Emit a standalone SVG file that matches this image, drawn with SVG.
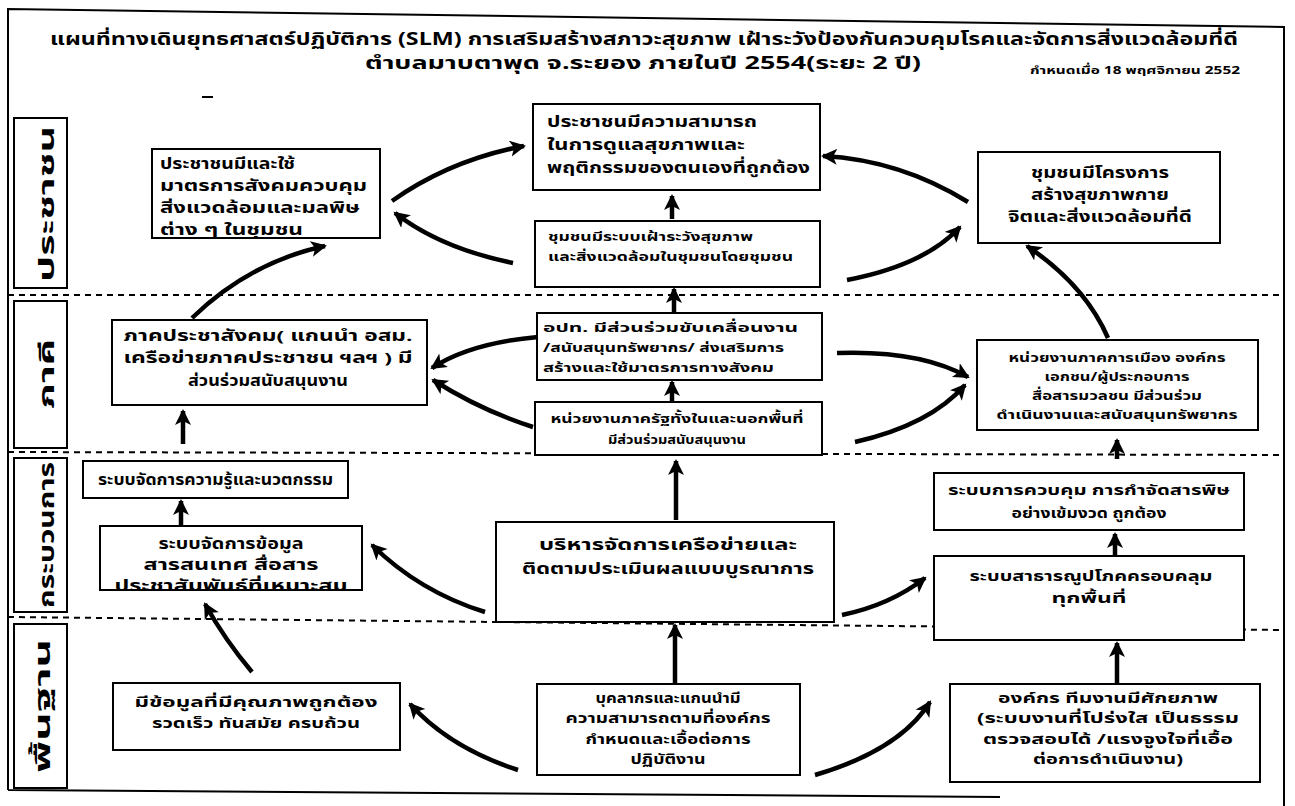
<svg xmlns="http://www.w3.org/2000/svg" width="1295" height="806" viewBox="0 0 1295 806">
<style>
text{font-family:"Noto Sans Thai","Tahoma","Noto Sans","DejaVu Sans",sans-serif;font-weight:bold;fill:#000}
.box{fill:#fff;stroke:#000;stroke-width:2}
.lab{fill:#fff;stroke:#000;stroke-width:2}
.div{stroke:#000;stroke-width:2;stroke-dasharray:6 5;fill:none}
.frame{stroke:#000;stroke-width:2;fill:none}
.con{stroke:#000;stroke-width:4.5;fill:none;marker-end:url(#ah)}
.t16{font-size:16px}
.t15{font-size:15px}
.t14{font-size:14px}
.t13{font-size:13px}
.lt{font-size:21px}
.m{text-anchor:middle}
</style>
<defs>
<marker id="ah" markerUnits="userSpaceOnUse" markerWidth="20" markerHeight="20" refX="14" refY="8" orient="auto">
<path d="M0,0 L16,8 L0,16 L4,8 z" fill="#000"/>
</marker>
</defs>
<rect x="0" y="0" width="1295" height="806" fill="#fff"/>
<path class="frame" d="M8,790 L8,9 L1284,27 L1284,806 M8,790 L1000,797"/>
<g id="title">
<text x="50" y="45" font-size="17" textLength="1188" lengthAdjust="spacingAndGlyphs">แผนที่ทางเดินยุทธศาสตร์ปฏิบัติการ (SLM) การเสริมสร้างสภาวะสุขภาพ เฝ้าระวังป้องกันควบคุมโรคและจัดการสิ่งแวดล้อมที่ดี</text>
<text x="365" y="69" font-size="17" textLength="556" lengthAdjust="spacingAndGlyphs">ตำบลมาบตาพุด จ.ระยอง ภายในปี 2554(ระยะ 2 ปี)</text>
<text x="1030" y="74" font-size="11" textLength="210" lengthAdjust="spacingAndGlyphs">กำหนดเมื่อ 18 พฤศจิกายน 2552</text>
</g>
<line x1="202" y1="97" x2="213" y2="97" stroke="#000" stroke-width="2"/>
<g id="dividers">
<line class="div" x1="8" y1="295" x2="1284" y2="295"/>
<line class="div" x1="8" y1="452" x2="1284" y2="455"/>
<line class="div" x1="8" y1="617" x2="1284" y2="630"/>
</g>
<g id="lane-people">
<rect class="lab" x="14" y="118" width="53" height="170"/>
<text class="lt m" transform="translate(54,204) rotate(-90)" textLength="156" lengthAdjust="spacingAndGlyphs">ประชาชน</text>
</g>
<g id="lane-partners">
<rect class="lab" x="14" y="301" width="53" height="147"/>
<text class="lt m" transform="translate(54,374) rotate(-90)" textLength="70" lengthAdjust="spacingAndGlyphs">ภาคี</text>
</g>
<g id="lane-process">
<rect class="lab" x="14" y="458" width="53" height="154"/>
<text class="lt m" transform="translate(54,535) rotate(-90)" textLength="146" lengthAdjust="spacingAndGlyphs">กระบวนการ</text>
</g>
<g id="lane-base">
<rect class="lab" x="14" y="624" width="53" height="164"/>
<text class="lt m" transform="translate(50,706) rotate(-90)" textLength="134" lengthAdjust="spacingAndGlyphs">พื้นฐาน</text>
</g>
<g id="n1">
<rect class="box" x="152" y="149" width="228" height="89"/>
<text class="t15" x="160" y="169" textLength="135" lengthAdjust="spacingAndGlyphs">ประชาชนมีและใช้</text>
<text class="t15" x="160" y="191" textLength="207" lengthAdjust="spacingAndGlyphs">มาตรการสังคมควบคุม</text>
<text class="t15" x="160" y="213" textLength="200" lengthAdjust="spacingAndGlyphs">สิ่งแวดล้อมและมลพิษ</text>
<text class="t15" x="160" y="235" textLength="143" lengthAdjust="spacingAndGlyphs">ต่าง ๆ ในชุมชน</text>
</g>
<g id="n2">
<rect class="box" x="533" y="104" width="287" height="86"/>
<text class="t16" x="547" y="127" textLength="210" lengthAdjust="spacingAndGlyphs">ประชาชนมีความสามารถ</text>
<text class="t16" x="547" y="150" textLength="198" lengthAdjust="spacingAndGlyphs">ในการดูแลสุขภาพและ</text>
<text class="t16" x="547" y="173" textLength="263" lengthAdjust="spacingAndGlyphs">พฤติกรรมของตนเองที่ถูกต้อง</text>
</g>
<g id="n3">
<rect class="box" x="535" y="221" width="285" height="66"/>
<text class="t13" x="548" y="241" textLength="205" lengthAdjust="spacingAndGlyphs">ชุมชนมีระบบเฝ้าระวังสุขภาพ</text>
<text class="t13" x="548" y="261" textLength="245" lengthAdjust="spacingAndGlyphs">และสิ่งแวดล้อมในชุมชนโดยชุมชน</text>
</g>
<g id="n4">
<rect class="box" x="978" y="152" width="242" height="91"/>
<text class="t15 m" x="1100" y="178" textLength="138" lengthAdjust="spacingAndGlyphs">ชุมชนมีโครงการ</text>
<text class="t15 m" x="1100" y="200" textLength="138" lengthAdjust="spacingAndGlyphs">สร้างสุขภาพกาย</text>
<text class="t15 m" x="1100" y="222" textLength="184" lengthAdjust="spacingAndGlyphs">จิตและสิ่งแวดล้อมที่ดี</text>
</g>
<g id="n5">
<rect class="box" x="112" y="320" width="315" height="85"/>
<text class="t15 m" x="268" y="341" textLength="289" lengthAdjust="spacingAndGlyphs">ภาคประชาสังคม( แกนนำ  อสม.</text>
<text class="t15 m" x="268" y="363" textLength="289" lengthAdjust="spacingAndGlyphs">เครือข่ายภาคประชาชน  ฯลฯ ) มี</text>
<text class="t15 m" x="268" y="386" textLength="160" lengthAdjust="spacingAndGlyphs">ส่วนร่วมสนับสนุนงาน</text>
</g>
<g id="n6">
<rect class="box" x="537" y="313" width="285" height="67"/>
<text class="t13" x="543" y="332" textLength="255" lengthAdjust="spacingAndGlyphs">อปท.  มีส่วนร่วมขับเคลื่อนงาน</text>
<text class="t13" x="543" y="352" textLength="241" lengthAdjust="spacingAndGlyphs">/สนับสนุนทรัพยากร/ ส่งเสริมการ</text>
<text class="t13" x="543" y="372" textLength="231" lengthAdjust="spacingAndGlyphs">สร้างและใช้มาตรการทางสังคม</text>
</g>
<g id="n7">
<rect class="box" x="535" y="402" width="287" height="53"/>
<text class="t13 m" x="677" y="423" textLength="253" lengthAdjust="spacingAndGlyphs">หน่วยงานภาครัฐทั้งในและนอกพื้นที่</text>
<text class="t13 m" x="677" y="444" textLength="138" lengthAdjust="spacingAndGlyphs">มีส่วนร่วมสนับสนุนงาน</text>
</g>
<g id="n8">
<rect class="box" x="977" y="340" width="281" height="90"/>
<text class="t13 m" x="1117" y="362" textLength="217" lengthAdjust="spacingAndGlyphs">หน่วยงานภาคการเมือง  องค์กร</text>
<text class="t13 m" x="1117" y="381" textLength="145" lengthAdjust="spacingAndGlyphs">เอกชน/ผู้ประกอบการ</text>
<text class="t13 m" x="1117" y="400" textLength="170" lengthAdjust="spacingAndGlyphs">สื่อสารมวลชน  มีส่วนร่วม</text>
<text class="t13 m" x="1117" y="419" textLength="241" lengthAdjust="spacingAndGlyphs">ดำเนินงานและสนับสนุนทรัพยากร</text>
</g>
<g id="n9">
<rect class="box" x="83" y="461" width="265" height="37"/>
<text class="t15" x="98" y="485" textLength="235" lengthAdjust="spacingAndGlyphs">ระบบจัดการความรู้และนวตกรรม</text>
</g>
<g id="n10">
<rect class="box" x="100" y="526" width="262" height="64"/>
<text class="t15 m" x="231" y="549" textLength="145" lengthAdjust="spacingAndGlyphs">ระบบจัดการข้อมูล</text>
<text class="t15 m" x="231" y="570" textLength="175" lengthAdjust="spacingAndGlyphs">สารสนเทศ   สื่อสาร</text>
<text class="t15 m" x="231" y="591" textLength="233" lengthAdjust="spacingAndGlyphs">ประชาสัมพันธ์ที่เหมาะสม</text>
</g>
<g id="n11">
<rect class="box" x="496" y="522" width="338" height="100"/>
<text class="t16 m" x="668" y="550" textLength="258" lengthAdjust="spacingAndGlyphs">บริหารจัดการเครือข่ายและ</text>
<text class="t16 m" x="668" y="574" textLength="292" lengthAdjust="spacingAndGlyphs">ติดตามประเมินผลแบบบูรณาการ</text>
</g>
<g id="n12">
<rect class="box" x="934" y="473" width="310" height="57"/>
<text class="t14 m" x="1089" y="495" textLength="282" lengthAdjust="spacingAndGlyphs">ระบบการควบคุม การกำจัดสารพิษ</text>
<text class="t14 m" x="1089" y="518" textLength="155" lengthAdjust="spacingAndGlyphs">อย่างเข้มงวด  ถูกต้อง</text>
</g>
<g id="n13">
<rect class="box" x="934" y="556" width="310" height="84"/>
<text class="t14 m" x="1091" y="581" textLength="243" lengthAdjust="spacingAndGlyphs">ระบบสาธารณูปโภคครอบคลุม</text>
<text class="t14 m" x="1089" y="603" textLength="75" lengthAdjust="spacingAndGlyphs">ทุกพื้นที่</text>
</g>
<g id="n14">
<rect class="box" x="113" y="683" width="287" height="67"/>
<text class="t14 m" x="256" y="707" textLength="243" lengthAdjust="spacingAndGlyphs">มีข้อมูลที่มีคุณภาพถูกต้อง</text>
<text class="t14 m" x="256" y="728" textLength="208" lengthAdjust="spacingAndGlyphs">รวดเร็ว ทันสมัย  ครบถ้วน</text>
</g>
<g id="n15">
<rect class="box" x="537" y="684" width="263" height="91"/>
<text class="t14 m" x="668" y="703" textLength="145" lengthAdjust="spacingAndGlyphs">บุคลากรและแกนนำมี</text>
<text class="t14 m" x="668" y="723" textLength="205" lengthAdjust="spacingAndGlyphs">ความสามารถตามที่องค์กร</text>
<text class="t14 m" x="668" y="744" textLength="165" lengthAdjust="spacingAndGlyphs">กำหนดและเอื้อต่อการ</text>
<text class="t14 m" x="668" y="764" textLength="75" lengthAdjust="spacingAndGlyphs">ปฏิบัติงาน</text>
</g>
<g id="n16">
<rect class="box" x="950" y="684" width="310" height="98"/>
<text class="t14 m" x="1108" y="703" textLength="220" lengthAdjust="spacingAndGlyphs">องค์กร  ทีมงานมีศักยภาพ</text>
<text class="t14 m" x="1108" y="723" textLength="262" lengthAdjust="spacingAndGlyphs">(ระบบงานที่โปร่งใส เป็นธรรม</text>
<text class="t14 m" x="1108" y="744" textLength="250" lengthAdjust="spacingAndGlyphs">ตรวจสอบได้ /แรงจูงใจที่เอื้อ</text>
<text class="t14 m" x="1108" y="764" textLength="150" lengthAdjust="spacingAndGlyphs">ต่อการดำเนินงาน)</text>
</g>
<g id="connectors">
<path class="con" d="M192,318 Q250,262 325,246"/>
<path class="con" d="M392,201 Q450,160 524,146"/>
<path class="con" d="M513,263 Q440,248 395,213"/>
<path class="con" d="M672,219 L672,196"/>
<path class="con" d="M674,312 L674,289"/>
<path class="con" d="M847,280 Q925,265 960,227"/>
<path class="con" d="M968,202 Q900,160 823,156"/>
<path class="con" d="M1108,338 Q1085,285 1027,246"/>
<path class="con" d="M538,337 Q470,343 432,368"/>
<path class="con" d="M533,427 Q480,410 433,380"/>
<path class="con" d="M672,402 L672,382"/>
<path class="con" d="M837,353 Q920,350 968,377"/>
<path class="con" d="M855,442 Q930,425 965,385"/>
<path class="con" d="M1117,459 L1117,440"/>
<path class="con" d="M183,444 L183,411"/>
<path class="con" d="M181,525 L181,501"/>
<path class="con" d="M485,612 Q420,592 372,545"/>
<path class="con" d="M676,520 L676,461"/>
<path class="con" d="M842,615 Q890,605 925,578"/>
<path class="con" d="M1115,556 L1115,534"/>
<path class="con" d="M252,672 Q225,640 205,604"/>
<path class="con" d="M675,684 L675,625"/>
<path class="con" d="M1117,684 L1117,643"/>
<path class="con" d="M518,770 Q450,748 410,704"/>
<path class="con" d="M815,775 Q900,750 930,702"/>
</g>
</svg>
